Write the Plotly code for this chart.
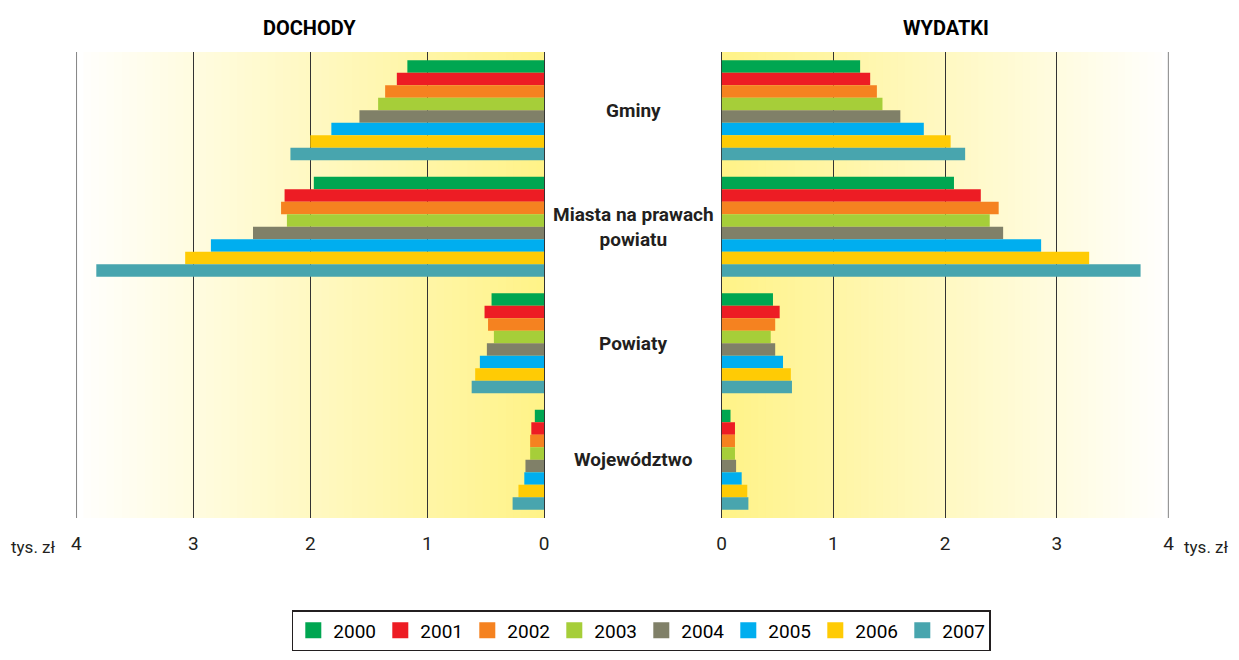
"""
Dochody i wydatki na mieszkańca (tys. zł) - wykres motylkowy w Plotly
"""

import plotly.graph_objects as go

# --- dane ---
categories = ['Gminy', 'Miasta na prawach powiatu', 'Powiaty', 'Województwo']
category_labels = ['Gminy', 'Miasta na prawach<br>powiatu', 'Powiaty', 'Województwo']
years = ['2000', '2001', '2002', '2003', '2004', '2005', '2006', '2007']

# dochody: jedna lista na rok, kolejność jak w categories
dochody_2000 = [1.17, 1.97, 0.45, 0.08]
dochody_2001 = [1.26, 2.22, 0.51, 0.11]
dochody_2002 = [1.36, 2.25, 0.48, 0.12]
dochody_2003 = [1.42, 2.20, 0.43, 0.12]
dochody_2004 = [1.58, 2.49, 0.49, 0.16]
dochody_2005 = [1.82, 2.85, 0.55, 0.17]
dochody_2006 = [2.00, 3.07, 0.59, 0.22]
dochody_2007 = [2.17, 3.83, 0.62, 0.27]

wydatki_2000 = [1.24, 2.08, 0.46, 0.08]
wydatki_2001 = [1.33, 2.32, 0.52, 0.12]
wydatki_2002 = [1.39, 2.48, 0.48, 0.12]
wydatki_2003 = [1.44, 2.40, 0.44, 0.12]
wydatki_2004 = [1.60, 2.52, 0.48, 0.13]
wydatki_2005 = [1.81, 2.86, 0.55, 0.18]
wydatki_2006 = [2.05, 3.29, 0.62, 0.23]
wydatki_2007 = [2.18, 3.75, 0.63, 0.24]

dochody = [dochody_2000, dochody_2001, dochody_2002, dochody_2003,
           dochody_2004, dochody_2005, dochody_2006, dochody_2007]
wydatki = [wydatki_2000, wydatki_2001, wydatki_2002, wydatki_2003,
           wydatki_2004, wydatki_2005, wydatki_2006, wydatki_2007]

tick_vals = [0, 1, 2, 3, 4]
tick_text = ['0', '1', '2', '3', '4']

colors = ['#00A651', '#ED1C24', '#F58220', '#A6CE39',
          '#808068', '#00AEEF', '#FFCB05', '#48A5AE']

FONT = "Roboto, Arial Narrow, sans-serif"
TXT = '#231F20'
OFF = 8  # margines body strony (z każdej strony)
W, H = 1239 - 2 * OFF, 660 - 2 * OFF


def px_x(x):
    return (x - OFF) / W


def px_y(y):
    return 1 - (y - OFF) / H


fig = go.Figure()

for i, year in enumerate(years):
    fig.add_trace(go.Bar(
        x=dochody[i], y=categories, orientation='h',
        name=year, marker_color=colors[i], marker_line_width=0,
        xaxis='x', yaxis='y', legendgroup=year, showlegend=False
    ))
    fig.add_trace(go.Bar(
        x=wydatki[i], y=categories, orientation='h',
        name=year, marker_color=colors[i], marker_line_width=0,
        xaxis='x2', yaxis='y2', legendgroup=year, showlegend=False
    ))

# legenda z większymi kwadratami
for i, year in enumerate(years):
    fig.add_trace(go.Scatter(
        x=[None], y=[None], mode='markers', name=year, legendgroup=year,
        marker=dict(symbol='square', size=16, color=colors[i], line_width=0),
        xaxis='x', yaxis='y', showlegend=True
    ))

# gradient tła (żółty przy zerze -> biały przy końcu skali)
shapes = []
n_strips = 60
grad_end = 3.94
for k in range(n_strips):
    x0 = grad_end * k / n_strips
    x1 = grad_end * (k + 1) / n_strips
    t = (k + 0.5) / n_strips
    g = int(243 + (255 - 243) * t)
    b = int(136 + (252 - 136) * t)
    col = f'rgb(255,{g},{b})'
    for xr, yr in (('x', 'y domain'), ('x2', 'y2 domain')):
        shapes.append(dict(
            type='rect', xref=xr, yref=yr, x0=x0, x1=min(x1 + 0.01, grad_end), y0=0, y1=1,
            fillcolor=col, line_width=0, layer='below'
        ))

# linie siatki na krańcu skali (plotly pomija je na brzegu)
for xr, yr in (('x', 'y domain'), ('x2', 'y2 domain')):
    shapes.append(dict(
        type='line', xref=xr, yref=yr, x0=4, x1=4, y0=0, y1=1,
        line=dict(color='#333333', width=1.2), layer='above'
    ))

y_dom = [px_y(518), px_y(52)]

axis_common = dict(
    tickvals=tick_vals, ticktext=tick_text,
    showgrid=True, gridcolor='#333333', gridwidth=1,
    zeroline=True, zerolinecolor='#333333', zerolinewidth=1,
    showline=False, ticks='', ticklabelstandoff=12,
    tickfont=dict(family=FONT, size=19, color=TXT), fixedrange=True
)

fig.update_layout(
    width=W, height=H,
    margin=dict(l=0, r=0, t=0, b=0),
    paper_bgcolor='white', plot_bgcolor='rgba(0,0,0,0)',
    barmode='group', bargap=0.14, bargroupgap=0,
    font=dict(family=FONT, color=TXT),
    xaxis=dict(domain=[px_x(72), px_x(544)], anchor='y', range=[4, 0], **axis_common),
    xaxis2=dict(domain=[px_x(723), px_x(1174)], anchor='y2', range=[0, 4], **axis_common),
    yaxis=dict(domain=y_dom, anchor='x', autorange='reversed', showticklabels=False,
               showgrid=False, zeroline=False, fixedrange=True),
    yaxis2=dict(domain=y_dom, anchor='x2', autorange='reversed', showticklabels=False,
                showgrid=False, zeroline=False, fixedrange=True),
    shapes=shapes,
    showlegend=True,
    legend=dict(
        orientation='h', x=px_x(642), xanchor='center', y=px_y(610), yanchor='top',
        font=dict(family=FONT, size=19, color='black'),
        bordercolor='#231F20', borderwidth=1.5, bgcolor='white',
        entrywidth=42, entrywidthmode='pixels', traceorder='normal',
        itemwidth=30
    ),
)

annotations = [
    dict(text='<b>DOCHODY</b>', x=px_x(307), y=px_y(28),
         font=dict(family=FONT, size=20, color='black')),
    dict(text='<b>WYDATKI</b>', x=px_x(949), y=px_y(28),
         font=dict(family=FONT, size=20, color='black')),
    dict(text='tys. zł', x=px_x(29), y=px_y(547),
         font=dict(family=FONT, size=17, color=TXT)),
    dict(text='tys. zł', x=px_x(1212), y=px_y(547),
         font=dict(family=FONT, size=17, color=TXT)),
]
for a in annotations:
    a.update(xref='paper', yref='paper', xanchor='center', yanchor='middle', showarrow=False)

for cat, label in zip(categories, category_labels):
    annotations.append(dict(
        text=f'<b>{label}</b>', x=px_x(634), xref='paper', y=cat, yref='y',
        xanchor='center', yanchor='middle', showarrow=False, align='center',
        font=dict(family=FONT, size=19, color=TXT)
    ))
fig.update_layout(annotations=annotations)

fig.write_html("out.html")
